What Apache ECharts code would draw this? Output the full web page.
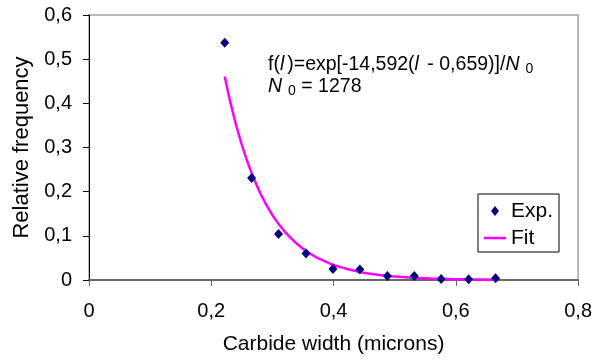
<!DOCTYPE html>
<html>
<head>
<meta charset="utf-8">
<script src="https://cdn.jsdelivr.net/npm/echarts@6/dist/echarts.min.js"></script>
<style>
html,body{margin:0;padding:0;background:#fff;}
#chart{width:595px;height:360px;}
</style>
</head>
<body>
<div id="chart"></div>
<script>
// Experimental points (Carbide width, relative frequency)
var expX = [0.222, 0.266, 0.310, 0.355, 0.399, 0.443, 0.488, 0.532, 0.576, 0.621, 0.665];
var expY = [0.537, 0.231, 0.104, 0.060, 0.025, 0.024, 0.009, 0.009, 0.002, 0.0015, 0.004];
// Fitted curve
var fitX = [0.222, 0.24, 0.26, 0.28, 0.30, 0.32, 0.34, 0.36, 0.38, 0.40, 0.42, 0.44, 0.46, 0.48, 0.50, 0.52, 0.54, 0.56, 0.58, 0.60, 0.62, 0.64, 0.665];
var fitY = [0.461, 0.354, 0.264, 0.197, 0.147, 0.110, 0.082, 0.061, 0.046, 0.034, 0.026, 0.019, 0.014, 0.011, 0.008, 0.006, 0.0044, 0.0033, 0.0025, 0.0019, 0.0014, 0.0010, 0.0007];
var xTicks = [0, 0.2, 0.4, 0.6, 0.8];
var yTicks = [0, 0.1, 0.2, 0.3, 0.4, 0.5, 0.6];
var seriesNames = ['Exp.', 'Fit'];
var xTitle = 'Carbide width (microns)';
var yTitle = 'Relative frequency';

var FONT = '"Liberation Sans", Arial, sans-serif';
function comma(v){ return String(+v.toFixed(2)).replace('.', ','); }

var expData = expX.map(function(x,i){ return [x, expY[i]]; });
var fitData = fitX.map(function(x,i){ return [x, fitY[i]]; });

var chart = echarts.init(document.getElementById('chart'), null, {renderer:'canvas'});
chart.setOption({
  animation: false,
  backgroundColor: '#ffffff',
  grid: {left: 89, right: 15, top: 15, bottom: 80, show: true, borderColor: '#a6a6a6', borderWidth: 1.5, backgroundColor: 'transparent'},
  xAxis: {
    type: 'value', min: xTicks[0], max: xTicks[xTicks.length-1], interval: 0.2,
    name: xTitle, nameLocation: 'middle', nameGap: 54,
    nameTextStyle: {fontFamily: FONT, fontSize: 21, color: '#000'},
    axisLine: {show: true, onZero: false, lineStyle: {color: '#666', width: 2}},
    axisTick: {show: true, inside: false, length: 6, lineStyle: {color: '#666', width: 1}},
    axisLabel: {margin: 21, fontFamily: FONT, fontSize: 20, color: '#000', formatter: function(v){ return comma(v); }},
    splitLine: {show: false}
  },
  yAxis: {
    type: 'value', min: yTicks[0], max: yTicks[yTicks.length-1], interval: 0.1,
    name: yTitle, nameLocation: 'middle', nameGap: 55, nameRotate: 90,
    nameTextStyle: {fontFamily: FONT, fontSize: 22, color: '#000'},
    axisLine: {show: true, onZero: false, lineStyle: {color: '#000', width: 1}},
    axisTick: {show: true, inside: false, length: 6, lineStyle: {color: '#000', width: 1}},
    axisLabel: {margin: 17, fontFamily: FONT, fontSize: 20, color: '#000', formatter: function(v){ return comma(v); }},
    splitLine: {show: false}
  },
  legend: {
    orient: 'vertical', left: 478, top: 194,
    padding: [6, 6, 3, 6], itemGap: 5, itemWidth: 22, itemHeight: 10,
    borderColor: '#000', borderWidth: 1, backgroundColor: '#fff',
    textStyle: {fontFamily: FONT, fontSize: 21, color: '#000', lineHeight: 22},
    data: [
      {name: seriesNames[0], icon: 'path://M11,0 L15,5 L11,10 L7,5 Z', itemStyle: {color: '#000080'}},
      {name: seriesNames[1], icon: 'path://M0,0 L22,0 L22,2.5 L0,2.5 Z', itemStyle: {color: '#ff00ff'}}
    ]
  },
  series: [
    {
      name: seriesNames[1], type: 'line', data: fitData, smooth: true,
      symbol: 'none', showSymbol: false, z: 2,
      lineStyle: {color: '#ff00ff', width: 2.5}, itemStyle: {color: '#ff00ff'}
    },
    {
      name: seriesNames[0], type: 'scatter', data: expData,
      symbol: 'diamond', symbolSize: [9, 10], z: 3,
      itemStyle: {color: '#000080', opacity: 1}
    }
  ],
  graphic: [{
    type: 'text', left: 268, top: 54, z: 10,
    style: {
      text: 'f({i|l})=exp[-14,592({i|l} - 0,659)]/{i|N}{s|0}\n{i|N}{s|0} = 1278',
      fontFamily: FONT, fontSize: 19.5, lineHeight: 22, fill: '#000',
      rich: {
        i: {fontFamily: FONT, fontSize: 19.5, fontStyle: 'italic', lineHeight: 22, padding: [0, 3, 0, 0], fill: '#000', color: '#000'},
        s: {fontFamily: FONT, fontSize: 14, lineHeight: 22, verticalAlign: 'bottom', padding: [0, 0, 0, 3], fill: '#000', color: '#000'}
      }
    }
  }]
});
</script>
</body>
</html>
